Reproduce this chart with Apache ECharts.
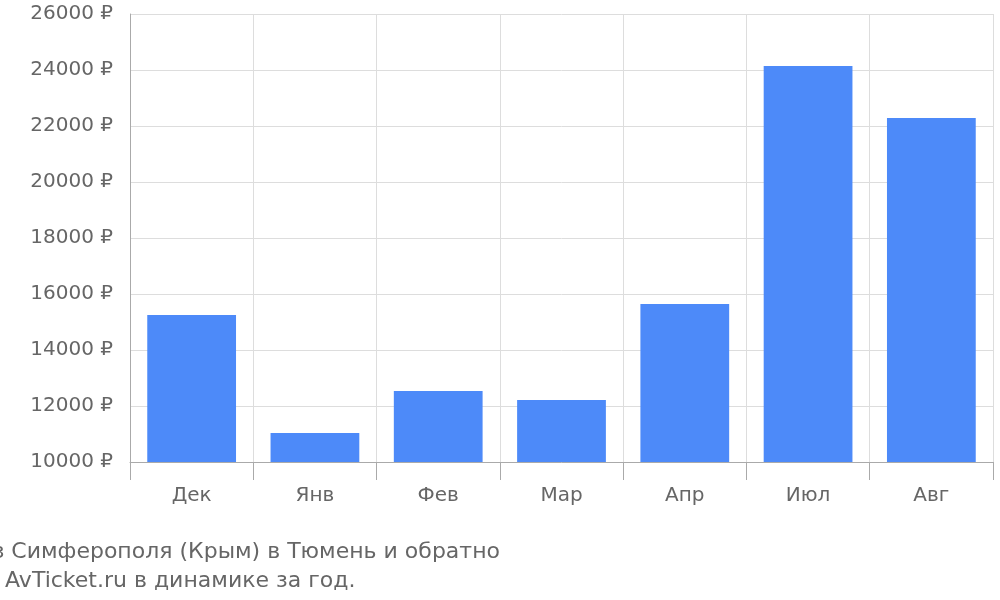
<!DOCTYPE html>
<html><head><meta charset="utf-8">
<script src="https://cdn.jsdelivr.net/npm/echarts@6/dist/echarts.min.js"></script>
<style>html,body{margin:0;padding:0;background:#fff}#c{width:1000px;height:600px}</style>
</head><body><div id="c"></div>
<script>
var categories = ["Дек","Янв","Фев","Мар","Апр","Июл","Авг"];
var prices = [15250,11040,12540,12210,15640,24140,22290];
var yTicks = {min:10000,max:26000,interval:2000};
var titleText = "Цены на авиабилеты из Симферополя (Крым) в Тюмень и обратно\nпо данным AvTicket.ru в динамике за год.";
var chart = echarts.init(document.getElementById('c'));
chart.setOption({
  animation:false,
  textStyle:{fontFamily:'DejaVu Sans'},
  title:{text:titleText,left:'center',top:533,textAlign:'center',
    textStyle:{fontFamily:'DejaVu Sans',fontSize:22,fontWeight:'normal',color:'#666',lineHeight:29}},
  grid:{left:130,right:7,top:14,bottom:138},
  xAxis:{type:'category',data:categories,
    axisLine:{lineStyle:{color:'#aaa'}},
    axisTick:{show:true,length:18,interval:0,lineStyle:{color:'#aaa'}},
    splitLine:{show:true,interval:0,lineStyle:{color:'#ddd'}},
    axisLabel:{margin:24,fontSize:20,color:'#666',interval:0}},
  yAxis:{type:'value',min:yTicks.min,max:yTicks.max,interval:yTicks.interval,
    axisLine:{show:true,lineStyle:{color:'#aaa'}},
    axisTick:{show:false},
    splitLine:{lineStyle:{color:'#ddd'}},
    axisLabel:{fontSize:20,color:'#666',margin:17,formatter:function(v){return v+' ₽';}}},
  series:[{type:'bar',data:prices,barCategoryGap:'28%',itemStyle:{color:'#4d8af9'}}]
});
</script></body></html>
